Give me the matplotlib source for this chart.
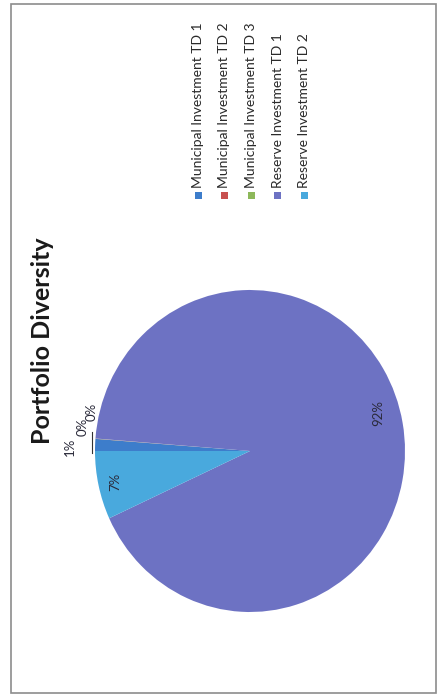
import matplotlib
matplotlib.use("Agg")
import matplotlib.pyplot as plt
from matplotlib.patches import Rectangle
import numpy as np

# ---- data ----
categories = ["Municipal Investment TD 1", "Municipal Investment TD 2",
              "Municipal Investment TD 3", "Reserve Investment TD 1",
              "Reserve Investment TD 2"]
values = [1.2, 0.02, 0.02, 91.9, 6.86]
slice_colors = ["#3D7DCB", "#C8504F", "#8DB85A", "#6D72C3", "#49A9DD"]
title = "Portfolio Diversity"

W, H = 438, 695
fig = plt.figure(figsize=(W / 100, H / 100), dpi=100)
fig.patch.set_facecolor("white")
FONT = ["Lato", "DejaVu Sans"]

def fx(px):
    return px / W

def fy(py):
    return 1 - py / H

# frame
fig.add_artist(Rectangle((fx(11), fy(693)), fx(436) - fx(11), fy(4) - fy(693),
                         transform=fig.transFigure, fill=False,
                         edgecolor="#8c8c8c", linewidth=1.2))

# pie axes: center (250,451) px, rx 155, ry 161
cx, cy, rx, ry = 250, 451, 155, 161
ax = fig.add_axes([fx(cx - rx), fy(cy + ry), 2 * rx / W, 2 * ry / H])
wedges, _ = ax.pie(values, colors=slice_colors, startangle=180,
                   counterclock=False, radius=1,
                   wedgeprops=dict(linewidth=0))
ax.set_aspect("auto")
ax.set_xlim(-1, 1)
ax.set_ylim(-1, 1)
ax.axis("off")

total = sum(values)
pcts = ["%.0f%%" % (v / total * 100) for v in values]
mids = [np.deg2rad((w.theta1 + w.theta2) / 2) for w in wedges]

lab_kw = dict(rotation=90, ha="center", va="center", fontsize=9.5,
              color="#2a2a3a", family=FONT)
# inside labels
ax.text(0.86 * np.cos(mids[3] + np.deg2rad(6)), 0.86 * np.sin(mids[3] + np.deg2rad(6)),
        pcts[3], **lab_kw)
ax.text(0.89 * np.cos(mids[4]), 0.89 * np.sin(mids[4]), pcts[4], **lab_kw)
# outside labels for the small slices
ax.text(-1.165, np.sin(mids[0]) * 1.16 - 0.02, pcts[0], **lab_kw)
ax.plot([-1.02, -1.02], [-0.01, 0.12], color="#333333", lw=0.8, clip_on=False)
ax.text(-1.08, 0.15, pcts[1], **lab_kw)
ax.text(-1.02, 0.24, pcts[2], **lab_kw)

# title
fig.text(fx(43), fy(341), title, rotation=90, ha="center", va="center",
         fontsize=18, fontweight="bold", color="#1a1a1a", family=FONT)

# legend (rotated)
leg_x0, leg_dx = 198, 26.5
sq = 7
for i, (name, col) in enumerate(zip(categories, slice_colors)):
    x = leg_x0 + i * leg_dx
    fig.add_artist(Rectangle((fx(x - sq / 2), fy(195 + sq / 2)), sq / W, sq / H,
                             transform=fig.transFigure, facecolor=col,
                             edgecolor="none"))
    fig.text(fx(x), fy(188), name, rotation=90, ha="center", va="bottom",
             fontsize=10, color="#2a2a2a", family=FONT)

fig.savefig("out.png", dpi=100, facecolor="white")
